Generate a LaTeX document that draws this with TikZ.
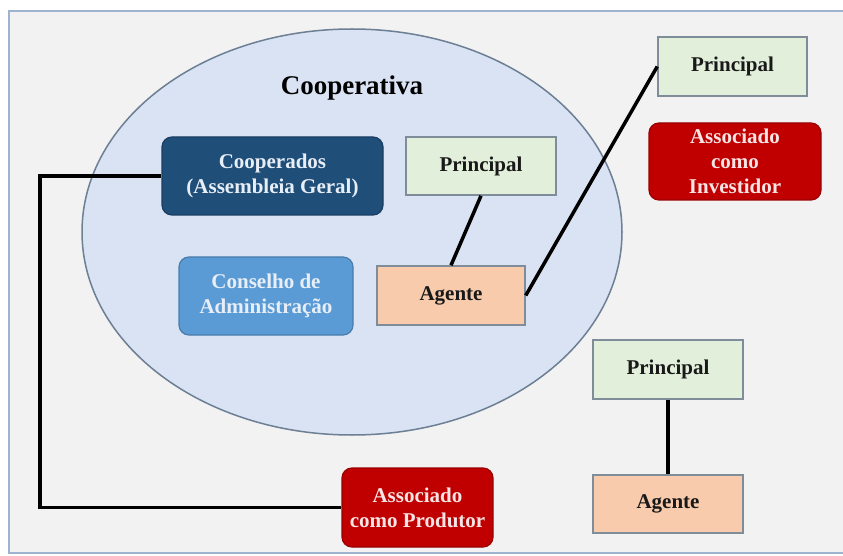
\documentclass[tikz,border=0pt]{standalone}
\usepackage{fontspec}
\setmainfont{Liberation Serif}
\usepackage{tikz}

\definecolor{framebg}{HTML}{F2F2F2}
\definecolor{frameline}{HTML}{9DB3CF}
\definecolor{ovalfill}{HTML}{DAE3F3}
\definecolor{ovalline}{HTML}{6D7F95}
\definecolor{boxline}{HTML}{7F8C9A}
\definecolor{princfill}{HTML}{E2EFDA}
\definecolor{agentfill}{HTML}{F8CBAD}
\definecolor{navyfill}{HTML}{1F4E79}
\definecolor{skyfill}{HTML}{5B9BD5}
\definecolor{redfill}{HTML}{C00000}
\definecolor{lighttext}{HTML}{E8EEF6}
\definecolor{pinktext}{HTML}{F7E4E4}

\begin{document}
\begin{tikzpicture}[x=1pt,y=1pt,
  every node/.style={font=\fontsize{21}{25}\selectfont\bfseries, align=center, inner sep=0pt},
  plainbox/.style={draw=boxline, line width=1.5pt, text=black!90},
  roundbox/.style={rounded corners=10pt, line width=1.2pt},
  link/.style={line width=3.5pt, black}]

  \def\xmin{0}
  \def\xmax{843}
  \def\ymin{0}
  \def\ymax{555}

  % page and frame
  \useasboundingbox (\xmin,\ymin) rectangle (\xmax,\ymax);
  \fill[white] (\xmin,\ymin) rectangle (\xmax,\ymax);
  \filldraw[fill=framebg, draw=frameline, line width=1.5pt] (9,2) rectangle (850,544);

  % the cooperative
  \filldraw[fill=ovalfill, draw=ovalline, line width=1.5pt] (352,323) ellipse (270 and 203);
  \node (title) at (352,467) [font=\fontsize{27}{30}\selectfont\bfseries] {Cooperativa};

  % boxes inside
  \node[roundbox, fill=navyfill, draw=navyfill!80!black, text=lighttext,
    minimum width=221, minimum height=78] (coop) at (272.5,379) {Cooperados\\(Assembleia Geral)};
  \node[roundbox, fill=skyfill, draw=skyfill!80!black, text=lighttext,
    minimum width=174, minimum height=78] (cons) at (266,259) {Conselho de\\Administração};
  \node[plainbox, fill=princfill, minimum width=150, minimum height=58] (princA) at (481,389) {Principal};
  \node[plainbox, fill=agentfill, minimum width=148, minimum height=59] (agentA) at (451,259.5) {Agente};

  % boxes outside
  \node[plainbox, fill=princfill, minimum width=149, minimum height=59] (princB) at (732.5,488.5) {Principal};
  \node[roundbox, fill=redfill, draw=redfill!80!black, text=pinktext,
    minimum width=172, minimum height=77] (invest) at (735,393.5) {Associado\\como\\Investidor};
  \node[plainbox, fill=princfill, minimum width=150, minimum height=59] (princC) at (668,185.5) {Principal};
  \node[plainbox, fill=agentfill, minimum width=150, minimum height=58] (agentC) at (668,51) {Agente};
  \node[roundbox, fill=redfill, draw=redfill!80!black, text=pinktext,
    minimum width=151, minimum height=79] (prod) at (417.5,47.5) {Associado\\como Produtor};

  % links
  \draw[link] (princA.south) -- (agentA.north);
  \draw[link] (agentA.east) -- (princB.west);
  \draw[link] (princC.south) -- (agentC.north);
  \coordinate (bend) at (40,379);
  \draw[link] (coop.west) -- (bend) |- (prod.west);

\end{tikzpicture}
\end{document}
